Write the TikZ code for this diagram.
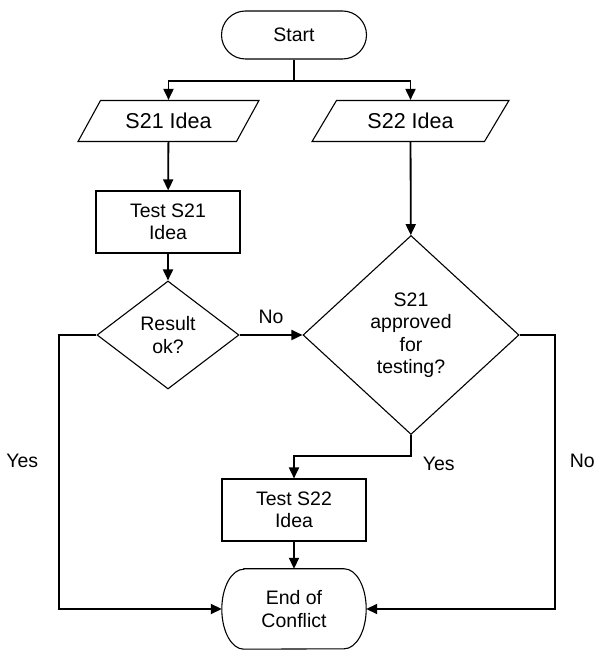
\documentclass[tikz,border=0pt]{standalone}
\usepackage{fontspec}
\setmainfont{Liberation Sans}
\usetikzlibrary{shapes.geometric,arrows.meta}

\begin{document}
\begin{tikzpicture}[x=1pt,y=1pt,
  every node/.style={font=\fontsize{19.5}{22.5}\selectfont, align=center, inner sep=0pt},
  border/.style={draw, line width=1.1pt},
  terminal/.style={border, rounded corners=24pt, minimum width=145pt, minimum height=48pt},
  idea/.style={border, trapezium, trapezium left angle=48, trapezium right angle=132,
    trapezium stretches=true, minimum height=41pt, font=\fontsize{21.5}{24}\selectfont},
  process/.style={border, rectangle, minimum width=144pt, minimum height=62pt},
  decision/.style={border, diamond},
  link/.style={line width=1.8pt},
  flow/.style={link, -{Triangle[length=11pt,width=10pt]}}]
  \useasboundingbox (0,0) rectangle (594,650);
  % start and the two ideas
  \node[terminal] (start) at (294,615) {Start};
  \coordinate (split) at (294,569);
  \node[idea, minimum width=181pt] (idea21) at (168.5,529) {S21 Idea};
  \node[idea, minimum width=197pt] (idea22) at (410.5,529) {S22 Idea};
  % left branch
  \node[process] (test21) at (168,428) {Test S21\\Idea};
  \node[decision, minimum width=142pt, minimum height=108pt] (result) at (168,315) {Result\\ok?};
  % right branch
  \node[decision, minimum width=216pt, minimum height=199pt] (approve) at (411,315) {S21\\approved\\for\\testing?};
  \node[process] (test22) at (294,140) {Test S22\\Idea};
  % end (flat top and bottom, bulging sides)
  \node[minimum width=144pt, minimum height=80pt] (endc) at (294,41) {End of\\Conflict};
  \draw[border] ([xshift=22pt]endc.north west) -- ([xshift=-22pt]endc.north east)
    arc[start angle=90, end angle=-90, x radius=22pt, y radius=40pt]
    -- ([xshift=22pt]endc.south west)
    arc[start angle=270, end angle=90, x radius=22pt, y radius=40pt] -- cycle;
  % turning points
  \coordinate (leftturn) at (59,315);
  \coordinate (rightturn) at (555,315);
  \coordinate (yesturn) at (411,194);
  % connectors
  \draw[link] (start) -- (split);
  \draw[flow] (split) -| (idea21);
  \draw[flow] (split) -| (idea22);
  \draw[flow] (idea21) -- (test21);
  \draw[flow] (test21) -- (result);
  \draw[flow] (idea22) -- (approve);
  \draw[flow] (result) -- node[above=10pt] (nomid) {No} (approve);
  \draw[flow] (result) -- (leftturn) |- node[pos=0.23, left=20pt] (yesleft) {Yes} (endc);
  \draw[flow] (approve) -- (rightturn) |- node[pos=0.23, right=14pt] (noright) {No} (endc);
  \draw[flow] (approve) -- (yesturn) node[anchor=north west, xshift=11pt] (yesmid) {Yes} -| (test22);
  \draw[flow] (test22) -- (endc);
\end{tikzpicture}
\end{document}
